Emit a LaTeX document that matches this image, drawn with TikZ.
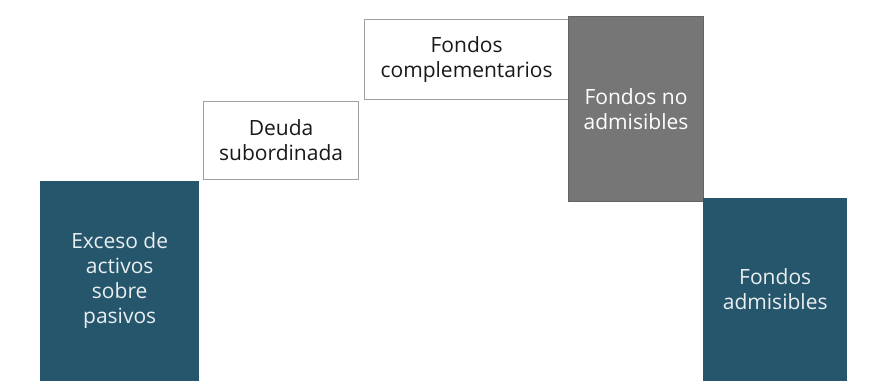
\documentclass[tikz,border=0pt]{standalone}
\usepackage{fontspec}
\setmainfont{Open Sans}
\usepackage{tikz}
\usetikzlibrary{positioning}
\definecolor{azulfondo}{RGB}{38,86,108}
\definecolor{grisfondo}{RGB}{118,118,118}
\definecolor{bordeclaro}{RGB}{160,160,160}
\tikzset{
x=1pt, y=1pt, % one unit is one point
block/.style={anchor=south west, inner sep=0pt, align=center, font=\fontsize{21}{25}\selectfont}, % common to every box
darkblock/.style={block, fill=azulfondo, text=white!90!azulfondo}, % dark blue boxes
greyblock/.style={block, fill=grisfondo, draw=grisfondo!85!black, line width=1pt, text=white}, % the grey box
lightblock/.style={block, fill=white, draw=bordeclaro, line width=1.2pt, text=black!90}, % white boxes
}
\begin{document}
\begin{tikzpicture}
\useasboundingbox (0,0) rectangle (870,381);
\node[darkblock, minimum width=159pt, minimum height=200pt] (exceso) at (40,0) {Exceso de\\activos\\sobre\\pasivos};
\node[lightblock, minimum width=155pt, minimum height=78pt] (deuda) at (203,201) {Deuda\\subordinada};
\node[lightblock, minimum width=204pt, minimum height=80pt] (complementarios) at (364,281) {Fondos\\complementarios};
\node[greyblock, minimum width=135pt, minimum height=185pt] (noadmisibles) at (568,179) {Fondos no\\admisibles};
\node[darkblock, minimum width=144pt, minimum height=183pt] (admisibles) at (703,0) {Fondos\\admisibles};
\end{tikzpicture}
\end{document}
